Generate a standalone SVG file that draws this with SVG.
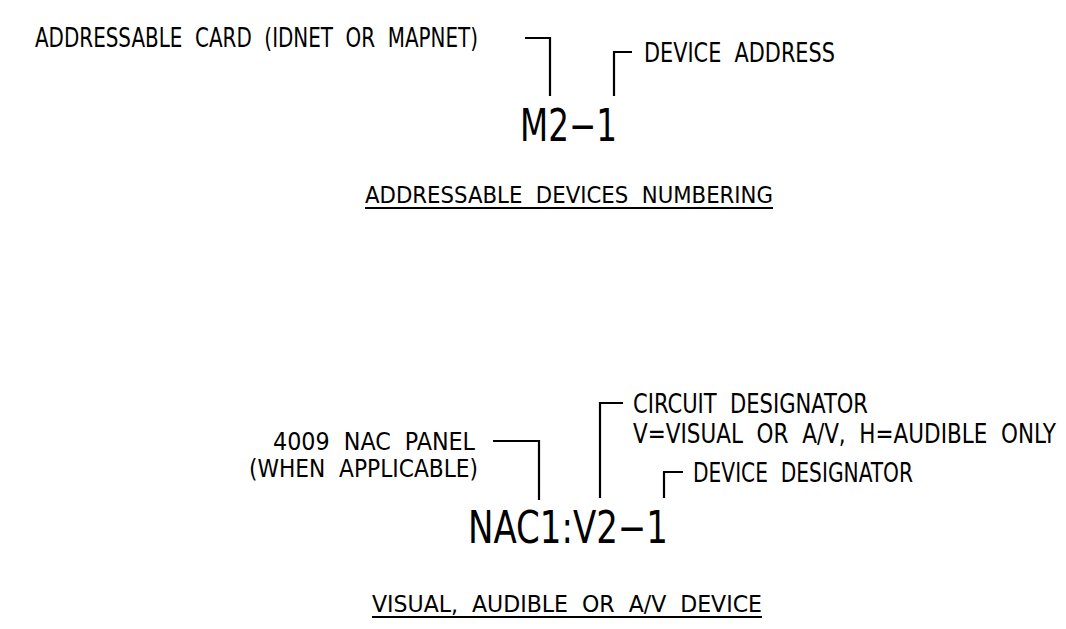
<svg xmlns="http://www.w3.org/2000/svg" width="1066" height="629" viewBox="0 0 1066 629">
<style>
  .t { font-family: "DejaVu Sans Condensed", "Liberation Sans Narrow", "Liberation Sans", sans-serif; fill: #000; white-space: pre; }
  .s { font-size: 26px; }
  .p { font-size: 24px; }
  .h { font-size: 23px; }
  .big { font-size: 44px; }
  .ln { fill: none; stroke: #000; stroke-width: 2.2; stroke-linecap: butt; stroke-linejoin: miter; }
</style>
<rect x="0" y="0" width="1066" height="629" fill="#fff"/>

<g id="label-addressable-card">
  <text class="t s" x="35" y="47" textLength="443" lengthAdjust="spacingAndGlyphs" xml:space="preserve">ADDRESSABLE  CARD  (IDNET  OR  MAPNET)</text>
</g>
<g id="label-device-address">
  <text class="t s" x="644" y="62" textLength="191" lengthAdjust="spacingAndGlyphs" xml:space="preserve">DEVICE  ADDRESS</text>
</g>
<g id="code-m2-1">
  <text class="t big" x="520" y="141" textLength="97" lengthAdjust="spacingAndGlyphs" xml:space="preserve">M2−1</text>
</g>
<g id="title-addressable">
  <text class="t h" x="365" y="203" textLength="408" lengthAdjust="spacingAndGlyphs" xml:space="preserve">ADDRESSABLE  DEVICES  NUMBERING</text>
  <line class="ln" x1="365" y1="208" x2="773" y2="208"/>
</g>

<g id="label-nac-panel">
  <text class="t p" x="273" y="450" textLength="202" lengthAdjust="spacingAndGlyphs" xml:space="preserve">4009  NAC  PANEL</text>
  <text class="t p" x="249" y="477" textLength="229" lengthAdjust="spacingAndGlyphs" xml:space="preserve">(WHEN  APPLICABLE)</text>
</g>
<g id="label-circuit-designator">
  <text class="t s" x="633" y="413" textLength="235" lengthAdjust="spacingAndGlyphs" xml:space="preserve">CIRCUIT  DESIGNATOR</text>
  <text class="t s" x="633" y="443" textLength="423" lengthAdjust="spacingAndGlyphs" xml:space="preserve">V=VISUAL  OR  A/V,  H=AUDIBLE  ONLY</text>
</g>
<g id="label-device-designator">
  <text class="t s" x="693" y="482" textLength="220" lengthAdjust="spacingAndGlyphs" xml:space="preserve">DEVICE  DESIGNATOR</text>
</g>
<g id="code-nac1">
  <text class="t big" x="468" y="543" textLength="200" lengthAdjust="spacingAndGlyphs" xml:space="preserve">NAC1:V2−1</text>
</g>
<g id="title-visual">
  <text class="t h" x="372" y="612" textLength="390" lengthAdjust="spacingAndGlyphs" xml:space="preserve">VISUAL,  AUDIBLE  OR  A/V  DEVICE</text>
  <line class="ln" x1="372" y1="617" x2="762" y2="617"/>
</g>

<g id="connectors">
  <polyline class="ln" points="525,38 550,38 550,96"/>
  <polyline class="ln" points="614,96 614,52 632,52"/>
  <polyline class="ln" points="493,441 539,441 539,500"/>
  <polyline class="ln" points="600,498 600,403 623,403"/>
  <polyline class="ln" points="664,498 664,472 683,472"/>
</g>
</svg>
